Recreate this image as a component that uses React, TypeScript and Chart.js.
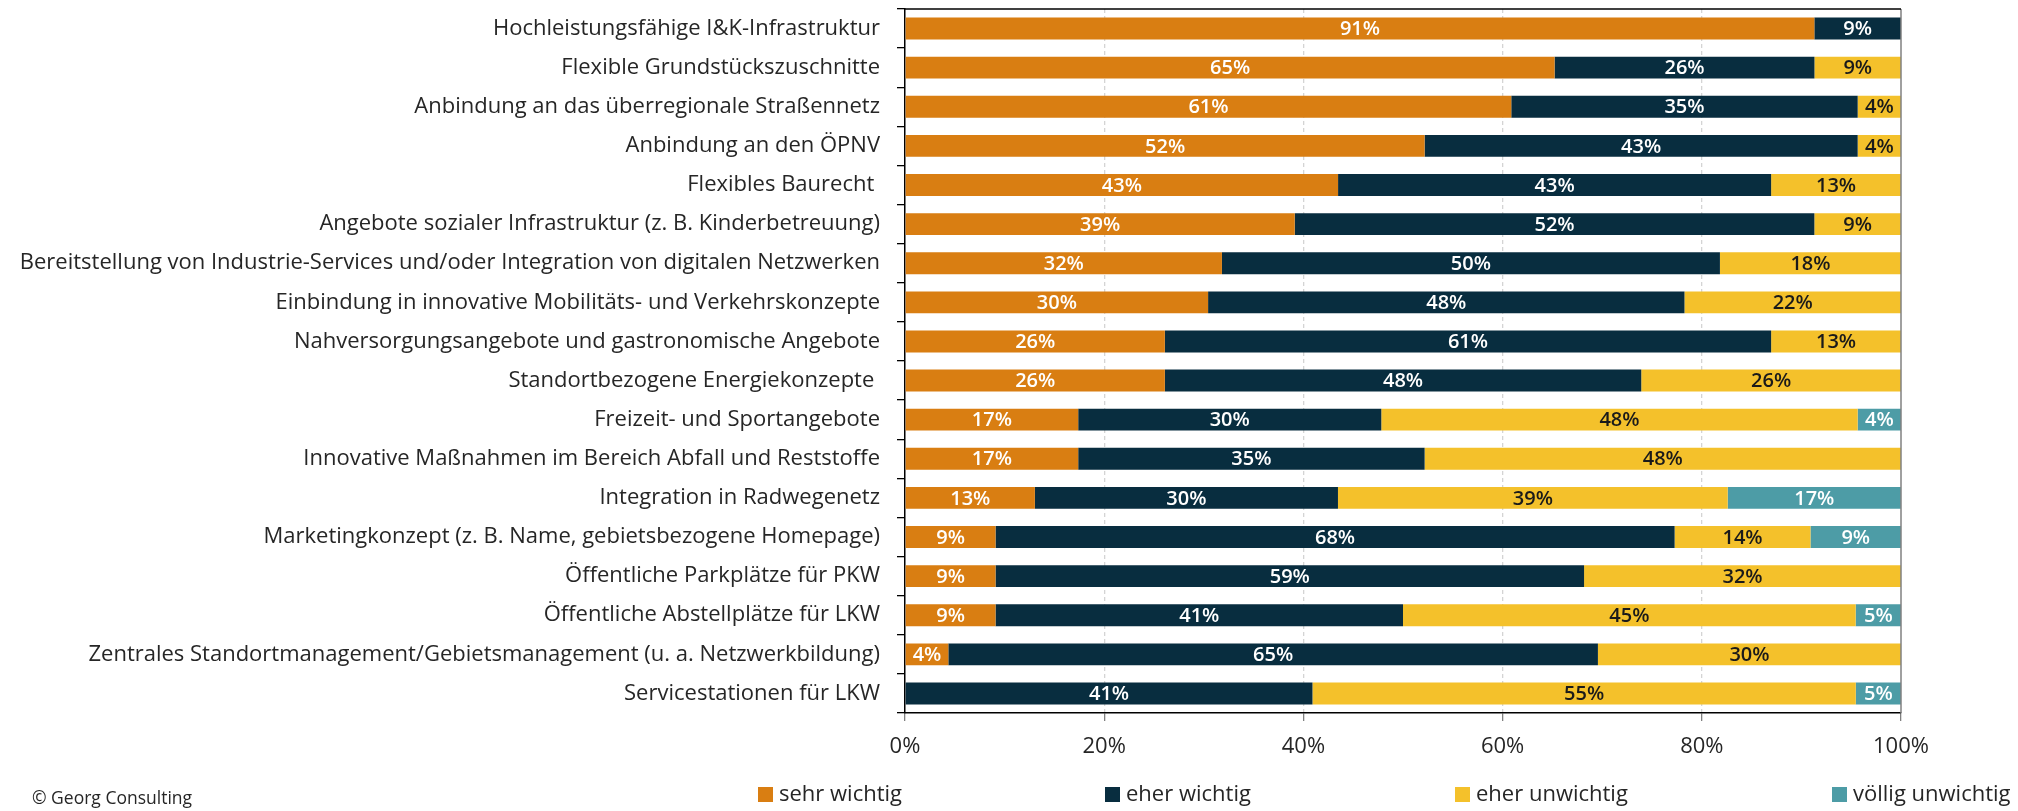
import React, { useEffect, useRef } from "react";
import { Chart, registerables } from "chart.js";

Chart.register(...registerables);

const categories = [
  "Hochleistungsfähige I&K-Infrastruktur",
  "Flexible Grundstückszuschnitte",
  "Anbindung an das überregionale Straßennetz",
  "Anbindung an den ÖPNV",
  "Flexibles Baurecht ",
  "Angebote sozialer Infrastruktur (z. B. Kinderbetreuung)",
  "Bereitstellung von Industrie-Services und/oder Integration von digitalen Netzwerken",
  "Einbindung in innovative Mobilitäts- und Verkehrskonzepte",
  "Nahversorgungsangebote und gastronomische Angebote",
  "Standortbezogene Energiekonzepte ",
  "Freizeit- und Sportangebote",
  "Innovative Maßnahmen im Bereich Abfall und Reststoffe",
  "Integration in Radwegenetz",
  "Marketingkonzept (z. B. Name, gebietsbezogene Homepage)",
  "Öffentliche Parkplätze für PKW",
  "Öffentliche Abstellplätze für LKW",
  "Zentrales Standortmanagement/Gebietsmanagement (u. a. Netzwerkbildung)",
  "Servicestationen für LKW",
];

const sehrWichtig = [91.3, 65.22, 60.87, 52.17, 43.48, 39.13, 31.82, 30.43, 26.09, 26.09, 17.39, 17.39, 13.04, 9.09, 9.09, 9.09, 4.35, 0];
const eherWichtig = [8.7, 26.09, 34.78, 43.48, 43.48, 52.17, 50.0, 47.83, 60.87, 47.83, 30.43, 34.78, 30.43, 68.18, 59.09, 40.91, 65.22, 40.91];
const eherUnwichtig = [0, 8.7, 4.35, 4.35, 13.04, 8.7, 18.18, 21.74, 13.04, 26.09, 47.83, 47.83, 39.13, 13.64, 31.82, 45.45, 30.43, 54.55];
const voelligUnwichtig = [0, 0, 0, 0, 0, 0, 0, 0, 0, 0, 4.35, 0, 17.39, 9.09, 0, 4.55, 0, 4.55];

const seriesLabels = ["sehr wichtig", "eher wichtig", "eher unwichtig", "völlig unwichtig"];
const xTickValues = [0, 20, 40, 60, 80, 100];
const sourceNote = "© Georg Consulting";

const COLORS = ["#D97E12", "#082D3F", "#F4C12B", "#4D9CA6"];
const LABEL_COLORS = ["#FFFFFF", "#FFFFFF", "#1A1A1A", "#FFFFFF"];
const FONT = "'Open Sans', 'Noto Sans', sans-serif";
const TEXT = "#262626";

const W = 2018;
const H = 811;

const valueLabelPlugin = {
  id: "valueLabels",
  afterDatasetsDraw(chart: any) {
    const ctx = chart.ctx;
    ctx.save();
    ctx.font = `600 20px ${FONT}`;
    ctx.textAlign = "center";
    ctx.textBaseline = "middle";
    chart.data.datasets.forEach((ds: any, di: number) => {
      const meta = chart.getDatasetMeta(di);
      meta.data.forEach((el: any, i: number) => {
        const v = ds.data[i];
        if (!v) return;
        const p = el.getProps(["x", "y", "base"], true);
        ctx.fillStyle = LABEL_COLORS[di];
        ctx.fillText(Math.round(v) + "%", (p.x + p.base) / 2, p.y + 1);
      });
    });
    ctx.restore();
  },
};

const framePlugin = {
  id: "frame",
  afterDatasetsDraw(chart: any) {
    const { ctx, chartArea } = chart;
    ctx.save();
    ctx.strokeStyle = "#808080";
    ctx.lineWidth = 1.5;
    ctx.beginPath();
    ctx.moveTo(chartArea.right, chartArea.top);
    ctx.lineTo(chartArea.right, chartArea.bottom);
    ctx.stroke();
    ctx.strokeStyle = "#000000";
    ctx.lineWidth = 1.5;
    ctx.beginPath();
    ctx.moveTo(chartArea.left, chartArea.top);
    ctx.lineTo(chartArea.right, chartArea.top);
    ctx.stroke();
    ctx.restore();
  },
};

const LEGEND_X = [758, 1105, 1455, 1832];

const legendPlugin = {
  id: "customLegend",
  afterDraw(chart: any) {
    const ctx = chart.ctx;
    ctx.save();
    ctx.font = `22px ${FONT}`;
    ctx.textAlign = "left";
    ctx.textBaseline = "middle";
    chart.data.datasets.forEach((ds: any, i: number) => {
      const x = LEGEND_X[i];
      ctx.fillStyle = ds.backgroundColor;
      ctx.fillRect(x, 787, 15, 15);
      ctx.fillStyle = TEXT;
      ctx.fillText(ds.label, x + 21, 795);
    });
    ctx.font = `17.5px ${FONT}`;
    ctx.fillText(sourceNote, 32, 799);
    ctx.restore();
  },
};

export default function App() {
  const ref = useRef<HTMLCanvasElement | null>(null);

  useEffect(() => {
    if (!ref.current) return;
    const series = [sehrWichtig, eherWichtig, eherUnwichtig, voelligUnwichtig];
    const chart = new Chart(ref.current, {
      type: "bar",
      data: {
        labels: categories,
        datasets: series.map((d, i) => ({
          label: seriesLabels[i],
          data: d,
          backgroundColor: COLORS[i],
          borderWidth: 0,
          barPercentage: 0.56,
          categoryPercentage: 1,
        })),
      },
      options: {
        indexAxis: "y",
        responsive: false,
        animation: false,
        layout: { padding: { top: 9, right: 117, bottom: 0, left: 0 } },
        plugins: {
          legend: { display: false },
          tooltip: { enabled: false },
        },
        scales: {
          x: {
            type: "linear",
            stacked: true,
            min: 0,
            max: 100,
            afterBuildTicks: (scale: any) => {
              scale.ticks = xTickValues.map((v) => ({ value: v }));
            },
            afterFit: (scale: any) => {
              scale.height = 98;
              scale.paddingLeft = 0;
              scale.paddingRight = 0;
            },
            ticks: {
              callback: (v: any) => v + "%",
              font: { family: FONT, size: 22 },
              color: TEXT,
              padding: 13,
              maxRotation: 0,
            },
            grid: {
              color: (c: any) =>
                c.tick && (c.tick.value === 0 || c.tick.value === 100) ? "rgba(0,0,0,0)" : "#D4D4D4",
              lineWidth: 1.3,
              tickLength: 8,
              tickColor: "#808080",
              drawTicks: true,
            },
            border: { color: "#000000", width: 1.5, dash: [4, 3] },
          },
          y: {
            type: "category",
            stacked: true,
            afterFit: (scale: any) => {
              scale.width = 905;
              scale.paddingTop = 0;
              scale.paddingBottom = 0;
            },
            ticks: {
              font: { family: FONT, size: 22 },
              color: TEXT,
              padding: 17,
              autoSkip: false,
            },
            grid: {
              drawOnChartArea: false,
              drawTicks: true,
              tickLength: 8,
              color: "#000000",
              lineWidth: 1.3,
              offset: true,
            },
            border: { color: "#000000", width: 1.5 },
          },
        },
      },
      plugins: [valueLabelPlugin, framePlugin, legendPlugin],
    } as any);
    return () => chart.destroy();
  }, []);

  return (
    <div style={{ position: "absolute", left: 0, top: 0, width: W, height: H, background: "#FFFFFF" }}>
      <canvas ref={ref} width={W} height={H} style={{ display: "block", width: W, height: H }} />
    </div>
  );
}
